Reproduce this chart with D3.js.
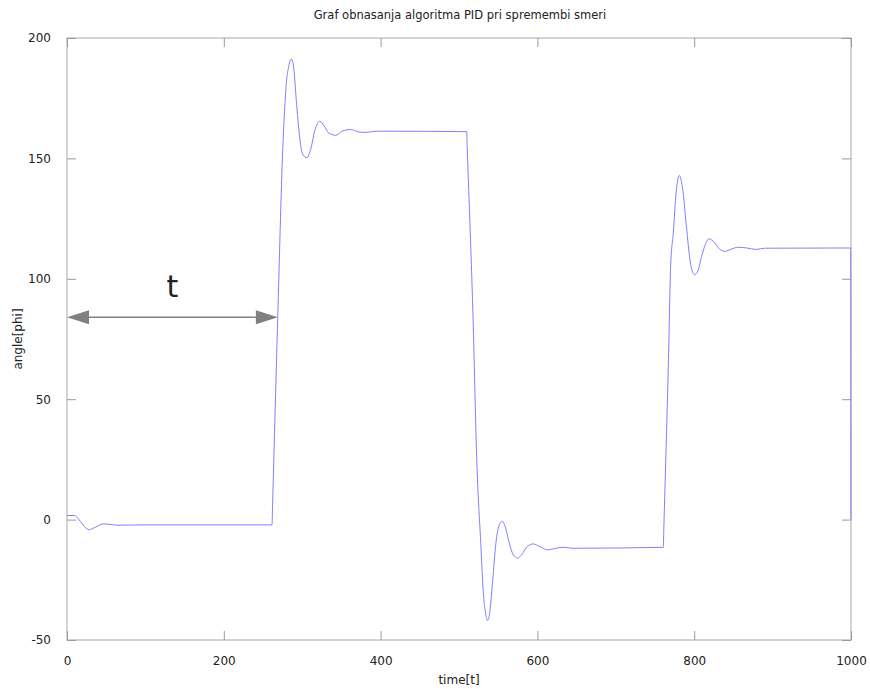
<!DOCTYPE html>
<html>
<head>
<meta charset="utf-8">
<script src="https://cdn.jsdelivr.net/npm/d3@7"></script>
<style>
  html, body { margin: 0; padding: 0; background: #fff; }
  svg { display: block; }
  text { font-family: "DejaVu Sans", sans-serif; fill: #222; }
</style>
</head>
<body>
<svg id="chart" width="870" height="689"></svg>
<script>
const title = "Graf obnasanja algoritma PID pri spremembi smeri";
const xLabel = "time[t]";
const yLabel = "angle[phi]";
const xTicks = [0, 200, 400, 600, 800, 1000];
const yTicks = [-50, 0, 50, 100, 150, 200];
const xDomain = [0, 1000];
const yDomain = [-50, 200];

const time = [
  0, 10, 14, 20, 28, 36, 46, 55, 64, 100,
  261.5, 262.2, 268.8, 275.1, 279.7, 283, 286.1, 289, 293, 297, 301,
  306, 311, 316, 322.7, 328, 334, 343, 352, 361.8, 372,
  381, 395, 509.8, 510.4, 518.2, 522.6, 527.7, 531, 534, 536.6, 539,
  543, 547, 551, 555.2, 559, 564, 569, 574.8, 580, 587,
  594.8, 603, 613, 622, 633, 645, 760.6, 761.2, 767, 770, 773.4,
  777, 781, 785, 790, 795, 800.5, 805, 810, 819, 826,
  832, 839, 847, 856, 867, 879, 890, 999.6, 1000
];
const angle = [
  1.7, 1.7, 0.5, -2, -4.2, -3.2, -1.8, -2.0, -2.3, -2.2,
  -2.2, 6, 84, 153, 181, 188.5, 191.3, 188, 172, 158, 151.5,
  150.3, 154, 161.5, 165.4, 163.5, 160.5, 159.6, 161.5, 162, 161,
  160.8, 161.3, 161.1, 155.3, 80.6, 25.3, -9.4, -30.2, -39, -41.9, -39,
  -25, -10, -2.5, -0.7, -3, -9.5, -14.5, -16, -14.5, -11.2,
  -10.1, -11.2, -12.6, -12, -11.5, -11.9, -11.5, -4.4, 64, 105.5, 119.3,
  136, 142.9, 138, 122, 107, 101.7, 103.5, 110, 116.6, 115,
  112.5, 111.4, 112.3, 113.1, 112.8, 112.2, 112.7, 112.8, 0
];
// annotation arrow "t"
const arrowSpan = [0, 269];
const arrowLevel = 84;
const arrowText = "t";

const W = 870, H = 689;
const m = {left: 67, right: 19, top: 38, bottom: 49};
const svg = d3.select("#chart");

const x = d3.scaleLinear().domain(xDomain).range([m.left, W - m.right]);
const y = d3.scaleLinear().domain(yDomain).range([H - m.bottom, m.top]);

const tickLen = 9;
const gridColor = "#9a9a9a";

svg.append("rect")
  .attr("x", x(xDomain[0])).attr("y", y(yDomain[1]))
  .attr("width", x(xDomain[1]) - x(xDomain[0]))
  .attr("height", y(yDomain[0]) - y(yDomain[1]))
  .attr("fill", "none").attr("stroke", "#a8a8a8").attr("stroke-width", 1);

const fmt = d => String(d);
const bottomAxis = d3.axisBottom(x).tickValues(xTicks).tickFormat(fmt).tickSizeInner(-tickLen).tickSizeOuter(0).tickPadding(16);
const topAxis = d3.axisTop(x).tickValues(xTicks).tickFormat("").tickSizeInner(-tickLen).tickSizeOuter(0);
const leftAxis = d3.axisLeft(y).tickValues(yTicks).tickFormat(fmt).tickSizeInner(-tickLen).tickSizeOuter(0).tickPadding(16);
const rightAxis = d3.axisRight(y).tickValues(yTicks).tickFormat("").tickSizeInner(-tickLen).tickSizeOuter(0);

function style(g) {
  g.select(".domain").remove();
  g.selectAll(".tick line").attr("stroke", gridColor);
  g.selectAll(".tick text").attr("font-size", 12).attr("fill", "#222").attr("font-family", "DejaVu Sans, sans-serif");
}
svg.append("g").attr("transform", `translate(0,${y(yDomain[0])})`).call(bottomAxis).call(style);
svg.append("g").attr("transform", `translate(0,${y(yDomain[1])})`).call(topAxis).call(style);
svg.append("g").attr("transform", `translate(${x(xDomain[0])},0)`).call(leftAxis).call(style);
svg.append("g").attr("transform", `translate(${x(xDomain[1])},0)`).call(rightAxis).call(style);

const data = time.map((t, i) => ({t, v: angle[i]}));
const line = d3.line().x(d => x(d.t)).y(d => y(d.v)).curve(d3.curveMonotoneX);
svg.append("path").datum(data)
  .attr("d", line)
  .attr("fill", "none")
  .attr("stroke", "#8080ff")
  .attr("stroke-width", 1)
  .attr("stroke-linejoin", "round");

const ax0 = x(arrowSpan[0]), ax1 = x(arrowSpan[1]), ay = y(arrowLevel);
const headL = 22, headH = 7;
svg.append("line")
  .attr("x1", ax0 + headL).attr("x2", ax1 - headL)
  .attr("y1", ay).attr("y2", ay)
  .attr("stroke", "#808080").attr("stroke-width", 1.5);
svg.append("path")
  .attr("d", `M${ax0},${ay} L${ax0 + headL},${ay - headH} L${ax0 + headL},${ay + headH} Z`)
  .attr("fill", "#808080");
svg.append("path")
  .attr("d", `M${ax1},${ay} L${ax1 - headL},${ay - headH} L${ax1 - headL},${ay + headH} Z`)
  .attr("fill", "#808080");
svg.append("text")
  .attr("x", (ax0 + ax1) / 2).attr("y", ay - 20)
  .attr("text-anchor", "middle")
  .attr("font-size", 30)
  .attr("font-family", "Open Sans, sans-serif")
  .attr("fill", "#333")
  .text(arrowText);

svg.append("text")
  .attr("x", (x(xDomain[0]) + x(xDomain[1])) / 2 + 1).attr("y", 19)
  .attr("text-anchor", "middle").attr("font-size", 11.5)
  .text(title);
svg.append("text")
  .attr("x", (x(xDomain[0]) + x(xDomain[1])) / 2).attr("y", 684)
  .attr("text-anchor", "middle").attr("font-size", 12)
  .text(xLabel);
svg.append("text")
  .attr("transform", `translate(22,${(y(yDomain[0]) + y(yDomain[1])) / 2}) rotate(-90)`)
  .attr("text-anchor", "middle").attr("font-size", 12)
  .text(yLabel);
</script>
</body>
</html>
